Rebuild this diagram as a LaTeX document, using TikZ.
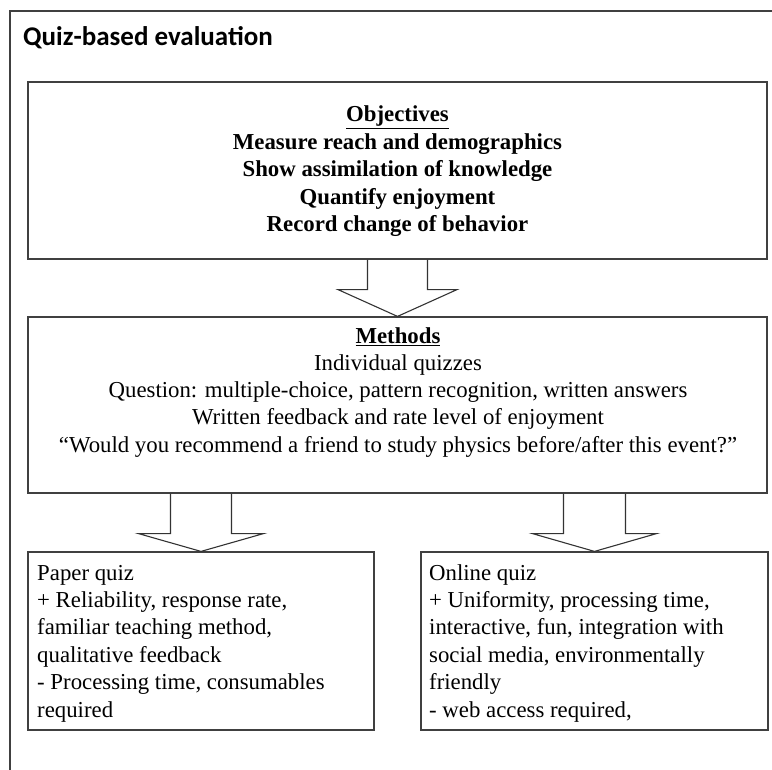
\documentclass[tikz,border=0pt]{standalone}
\usepackage{fontspec}
\setmainfont{Liberation Serif}
\newfontfamily\titlefont{Carlito}
\usetikzlibrary{calc}
\tikzset{
  frame/.style={draw=black!75, line width=1.2pt},
  box/.style={draw=black!75, line width=1.2pt, inner sep=0pt, rectangle},
  blockarrow/.style={draw=black!80, line width=1.1pt, line join=miter},
  objtext/.style={inner sep=0pt, align=center, font=\fontsize{22.8}{27.5}\selectfont\bfseries},
  methtext/.style={inner sep=0pt, align=center, font=\fontsize{22.8}{27.2}\selectfont},
  sidetext/.style={inner sep=0pt, align=left, font=\fontsize{22.8}{27.4}\selectfont},
}
\begin{document}
\begin{tikzpicture}[x=1pt,y=-1pt]
\useasboundingbox (0,0) rectangle (772,770);
% outer frame (cropped on right and bottom)
\draw[frame] (772,11) -- (10,11) -- (10,770);
\node[anchor=base west, inner sep=0pt, font=\titlefont\fontsize{27}{30}\selectfont\bfseries] (title) at (23,46) {Quiz-based evaluation};

% boxes
\node[box, minimum width=739pt, minimum height=177pt] (obj) at (397.5,170.5) {};
\node[box, minimum width=739pt, minimum height=176pt] (meth) at (397.5,405) {};
\node[box, minimum width=346pt, minimum height=178pt] (paper) at (201,641) {};
\node[box, minimum width=347pt, minimum height=178pt] (online) at (594.5,641) {};

% texts (anchored at the baseline of the last line)
\node[objtext, anchor=base] (objt) at (397.5,232) {\underline{Objectives}\\Measure reach and demographics\\Show assimilation of knowledge\\Quantify enjoyment\\Record change of behavior};
\node[methtext, anchor=base] (metht) at (398,452) {\textbf{\underline{Methods}}\\Individual quizzes\\Question: multiple-choice, pattern recognition, written answers\\Written feedback and rate level of enjoyment\\“Would you recommend a friend to study physics before/after this event?”};
\node[sidetext, anchor=base west] (papert) at (37,717) {Paper quiz\\+ Reliability, response rate,\\familiar teaching method,\\qualitative feedback\\- Processing time, consumables\\required};
\node[sidetext, anchor=base west] (onlinet) at (429,717) {Online quiz\\+ Uniformity, processing time,\\interactive, fun, integration with\\social media, environmentally\\friendly\\- web access required,};

% block arrows
\coordinate (a1) at (obj.south);
\draw[blockarrow] ($(a1)+(-30,0)$) -- ($(a1)+(-30,30)$) -- ($(a1)+(-59.5,30)$) -- (meth.north) -- ($(a1)+(59.5,30)$) -- ($(a1)+(30,30)$) -- ($(a1)+(30,0)$);
\coordinate (a2) at (paper.north |- meth.south);
\draw[blockarrow] ($(a2)+(-30.5,0)$) -- ($(a2)+(-30.5,40)$) -- ($(a2)+(-62.5,40)$) -- (paper.north) -- ($(a2)+(62.5,40)$) -- ($(a2)+(30.5,40)$) -- ($(a2)+(30.5,0)$);
\coordinate (a3) at (online.north |- meth.south);
\draw[blockarrow] ($(a3)+(-31,0)$) -- ($(a3)+(-31,40)$) -- ($(a3)+(-62,40)$) -- (online.north) -- ($(a3)+(62,40)$) -- ($(a3)+(31,40)$) -- ($(a3)+(31,0)$);
\end{tikzpicture}
\end{document}
